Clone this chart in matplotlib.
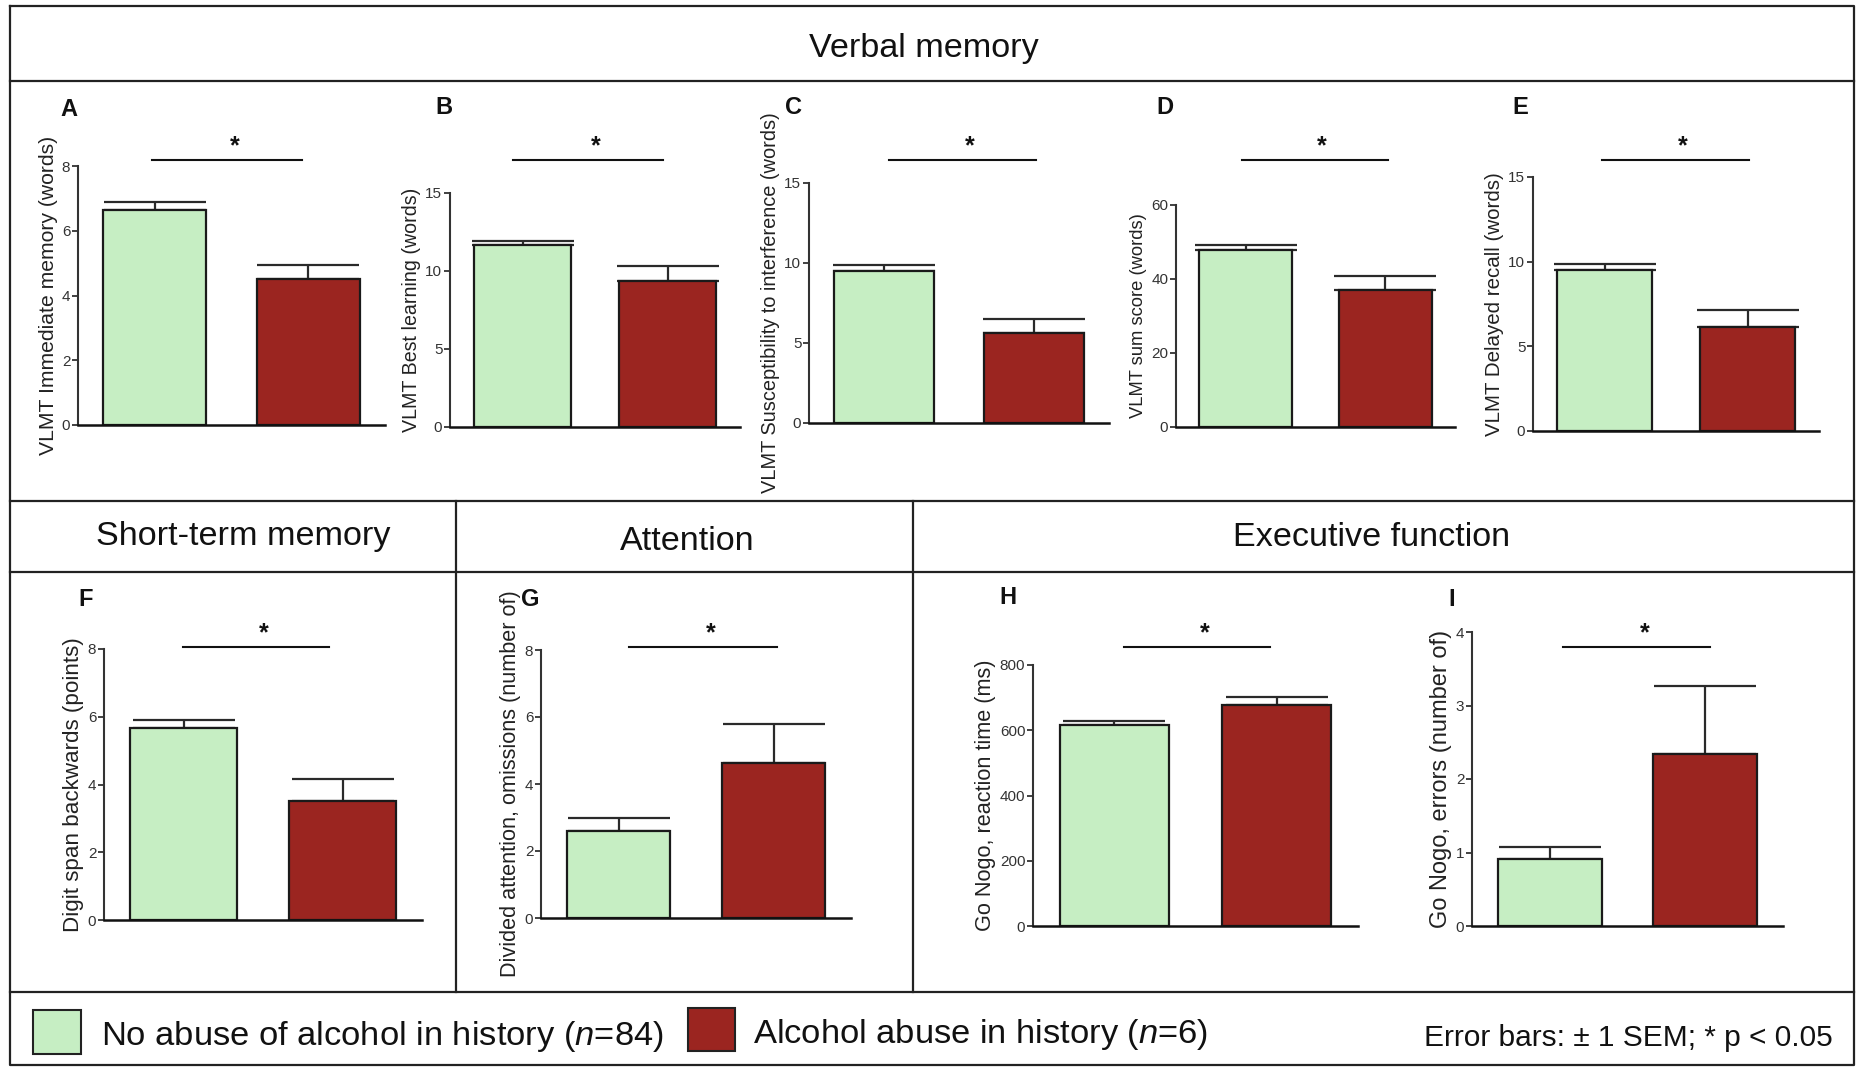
import matplotlib
matplotlib.use('Agg')
import matplotlib.pyplot as plt
from matplotlib.transforms import blended_transform_factory
from matplotlib.patches import Rectangle

plt.rcParams['font.family'] = ['Liberation Sans', 'DejaVu Sans']
plt.rcParams['mathtext.fontset'] = 'custom'
plt.rcParams['mathtext.it'] = 'Liberation Sans:italic'
plt.rcParams['mathtext.rm'] = 'Liberation Sans'

# ---------------- data ----------------
panel_letters = ['A', 'B', 'C', 'D', 'E', 'F', 'G', 'H', 'I']
y_labels = [
    'VLMT Immediate memory (words)',
    'VLMT Best learning (words)',
    'VLMT Susceptibility to interference (words)',
    'VLMT sum score (words)',
    'VLMT Delayed recall (words)',
    'Digit span backwards (points)',
    'Divided attention, omissions (number of)',
    'Go Nogo, reaction time (ms)',
    'Go Nogo, errors (number of)',
]
means_no_abuse = [6.65, 11.65, 9.5, 47.8, 9.49, 5.66, 2.59, 616, 0.914]
means_abuse = [4.5, 9.35, 5.63, 37.1, 6.14, 3.5, 4.64, 676, 2.34]
sem_no_abuse = [0.25, 0.3, 0.4, 1.3, 0.35, 0.24, 0.41, 12, 0.16]
sem_abuse = [0.45, 0.95, 0.87, 3.6, 1.02, 0.66, 1.15, 26, 0.92]
y_max = [8, 15, 15, 60, 15, 8, 8, 800, 4]
y_step = [2, 5, 5, 20, 5, 2, 2, 200, 1]
section_titles = ['Verbal memory', 'Short-term memory', 'Attention', 'Executive function']
legend_labels = ['No abuse of alcohol in history ($\\mathit{n}$=84)',
                 'Alcohol abuse in history ($\\mathit{n}$=6)']
note_text = 'Error bars: \u00b1 1 SEM; * p < 0.05'
sig_text = '*'

# ---------------- style / layout ----------------
GREEN = '#C6EEC3'
RED = '#9B2520'
W, H = 1857, 1067
DPI = 100

# axes rectangles in pixels: (left, right, top, bottom)
axes_px = [
    (78, 385, 166, 425),
    (450, 740, 193, 427),
    (809, 1109, 183, 423),
    (1176, 1455, 205, 427),
    (1533, 1819, 177, 431),
    (104, 422, 649, 920),
    (541, 851, 650, 918),
    (1033, 1358, 665, 926),
    (1472, 1783, 632, 926),
]
letter_px = [(69, 110), (444, 107), (794, 107), (1165, 107), (1520, 107),
             (86, 600), (530, 600), (1008, 597), (1452, 599)]
sig_span = [(-0.016, 0.96), (-0.066, 0.97), (0.03, 1.01), (-0.03, 1.02), (-0.014, 1.01),
            (-0.006, 0.915), (0.067, 1.02), (0.06, 0.96), (0.086, 1.03)]
sig_y_px = [160] * 5 + [647] * 4
ylabel_size = [15.2, 14.1, 14.4, 13.2, 14.8, 16.1, 15.6, 15.6, 17.0]

fig = plt.figure(figsize=(W / DPI, H / DPI), dpi=DPI)

# background frame axes in pixel coordinates
bg = fig.add_axes([0, 0, 1, 1])
bg.set_xlim(0, W)
bg.set_ylim(H, 0)
bg.axis('off')
fl = dict(color='#222222', lw=1.6)
L, R, T, B = 10, 1854, 6, 1065
bg.plot([L, R, R, L, L], [T, T, B, B, T], **fl)
for yy in (81, 501, 572, 992):
    bg.plot([L, R], [yy, yy], **fl)
for xx in (456, 913):
    bg.plot([xx, xx], [501, 992], **fl)

title_pos = [(924, 48), (243, 537), (687, 541), (1372, 537)]
for t, (x, y) in zip(section_titles, title_pos):
    bg.text(x, y, t, ha='center', va='center', fontsize=24.6, color='#111111')

# legend
bg.add_patch(Rectangle((33, 1010), 48, 44, facecolor=GREEN, edgecolor='#222222', lw=1.5))
bg.add_patch(Rectangle((688, 1008), 47, 43, facecolor=RED, edgecolor='#222222', lw=1.5))
bg.text(101, 1036, legend_labels[0], ha='left', va='center', fontsize=24.8, color='#111111')
bg.text(753, 1035, legend_labels[1], ha='left', va='center', fontsize=24.8, color='#111111')
bg.text(1833, 1038, note_text, ha='right', va='center', fontsize=21.5, color='#111111')


def frac_rect(l, r, t, b):
    return [l / W, 1 - b / H, (r - l) / W, (b - t) / H]


for i in range(9):
    ax = fig.add_axes(frac_rect(*axes_px[i]))
    ax.set_facecolor('none')
    x = [0, 1]
    vals = [means_no_abuse[i], means_abuse[i]]
    ax.bar(x, vals, width=0.67, color=[GREEN, RED], edgecolor='#1a1a1a',
           linewidth=1.6, zorder=2)
    ax.errorbar(x, vals, yerr=[[0, 0], [sem_no_abuse[i], sem_abuse[i]]], fmt='none',
                ecolor='#2a2a2a', elinewidth=1.6, capsize=37, capthick=1.6, zorder=1)
    ax.set_xlim(-0.5, 1.5)
    ax.set_ylim(0, y_max[i])
    ticks = list(range(0, y_max[i] + 1, y_step[i]))
    ax.set_yticks(ticks)
    ax.set_yticklabels([str(t) for t in ticks])
    ax.set_xticks([])
    for s in ('top', 'right'):
        ax.spines[s].set_visible(False)
    ax.spines['left'].set_color('#333333')
    ax.spines['left'].set_linewidth(1.5)
    ax.spines['bottom'].set_color('#111111')
    ax.spines['bottom'].set_linewidth(1.8)
    ax.tick_params(axis='y', direction='out', length=4, width=1.3, color='#333333',
                   labelsize=11, labelcolor='#333333', pad=1.5)
    ax.set_ylabel(y_labels[i], fontsize=ylabel_size[i], color='#222222', labelpad=3)

    # significance bar
    tr = blended_transform_factory(ax.transData, fig.transFigure)
    yf = 1 - sig_y_px[i] / H
    x0, x1 = sig_span[i]
    ax.plot([x0, x1], [yf, yf], color='#111111', lw=1.5, transform=tr, clip_on=False)
    ax.text((x0 + x1) / 2 + 0.05, yf + 2 / H, sig_text, transform=tr, ha='center',
            va='bottom', fontsize=18, fontweight='bold', color='#111111')

    lx, ly = letter_px[i]
    bg.text(lx, ly, panel_letters[i], ha='center', va='center', fontsize=17,
            fontweight='bold', color='#111111')

fig.savefig('out.png', dpi=DPI)
